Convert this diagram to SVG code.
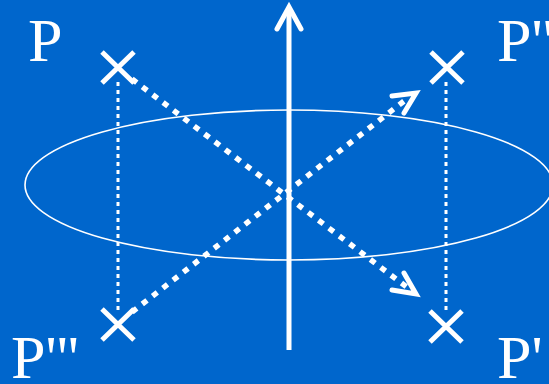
<svg xmlns="http://www.w3.org/2000/svg" width="549" height="384" viewBox="0 0 549 384">
<style>
.lbl{font-family:"Liberation Serif","Times New Roman",serif;font-size:62px;fill:#fff}
.x{stroke:#fff;stroke-width:5;fill:none}
.vdot{stroke:#fff;stroke-width:3;stroke-dasharray:4 4;fill:none}
.ddot{stroke:#fff;stroke-width:5.5;stroke-dasharray:6 7;fill:none}
.head{stroke:#fff;stroke-width:5;fill:none;stroke-linecap:round;stroke-linejoin:miter}
</style>
<rect width="549" height="384" fill="#0066CC"/>
<g id="connectors">
<ellipse cx="289" cy="185" rx="264" ry="75" fill="none" stroke="#fff" stroke-width="1.6"/>
<line x1="289" y1="350" x2="289" y2="8" stroke="#fff" stroke-width="5"/>
<polyline class="head" points="277,29 289,7 301,29"/>
<line class="vdot" x1="118" y1="82" x2="118" y2="310"/>
<line class="vdot" x1="446" y1="82" x2="446" y2="312"/>
<line class="ddot" x1="132" y1="79" x2="408" y2="288"/>
<polyline class="head" points="392,290 416,294 404,273"/>
<line class="ddot" x1="132" y1="312" x2="408" y2="98"/>
<polyline class="head" points="392,96 416,93 404,113"/>
</g>
<g id="P"><path class="x" d="M102,52 L134,83 M134,52 L102,83"/><text class="lbl" x="28" y="61">P</text></g>
<g id="P2"><path class="x" d="M431,52 L463,83 M463,52 L431,83"/><text class="lbl" x="497" y="61">P''</text></g>
<g id="P3"><path class="x" d="M102,309 L134,340 M134,309 L102,340"/><text class="lbl" x="11" y="378">P'''</text></g>
<g id="P1"><path class="x" d="M430,311 L462,342 M462,311 L430,342"/><text class="lbl" x="497" y="378">P'</text></g>
</svg>
